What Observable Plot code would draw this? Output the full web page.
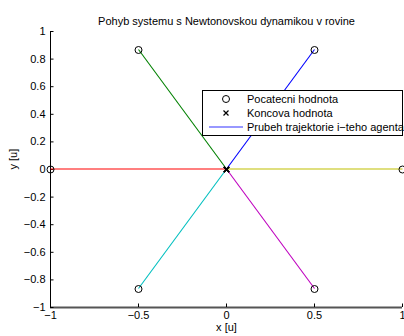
<!DOCTYPE html>
<html>
<head>
<meta charset="utf-8">
<script src="https://cdn.jsdelivr.net/npm/d3@7"></script>
<script src="https://cdn.jsdelivr.net/npm/@observablehq/plot@0.6"></script>
<style>
  html, body { margin: 0; padding: 0; background: #fff; }
  svg { font-family: "Liberation Sans", Arial, Helvetica, sans-serif; }
</style>
</head>
<body>
<div id="chart"></div>
<script>
// ---- data ----
const chartTitle = "Pohyb systemu s Newtonovskou dynamikou v rovine";
const xLabel = "x [u]";
const yLabel = "y [u]";
const agentStartX = [0.5, -0.5, -1, -0.5, 0.5, 1];
const agentStartY = [0.866, 0.866, 0, -0.866, -0.866, 0];
const agentEndX = [0, 0, 0, 0, 0, 0];
const agentEndY = [0, 0, 0, 0, 0, 0];
const agentColors = ["#0000ff", "#008000", "#ff0000", "#00bfbf", "#bf00bf", "#bfbf00"];
const xTicks = [-1, -0.5, 0, 0.5, 1];
const yTicks = [-1, -0.8, -0.6, -0.4, -0.2, 0, 0.2, 0.4, 0.6, 0.8, 1];
const legendLabels = ["Pocatecni hodnota", "Koncova hodnota", "Prubeh trajektorie i\u2212teho agenta"];

const agents = agentStartX.map((x0, i) => ({
  x0, y0: agentStartY[i], x1: agentEndX[i], y1: agentEndY[i], color: agentColors[i]
}));

const fmt = d => (d < 0 ? "\u2212" : "") + Math.abs(d);

const W = 404, H = 336;
const mL = 50, mR = 2, mT = 31, mB = 29;
const innerW = W - mL - mR, innerH = H - mT - mB;

const plot = Plot.plot({
  width: W,
  height: H,
  marginLeft: mL,
  marginRight: mR,
  marginTop: mT,
  marginBottom: mB,
  style: {fontFamily: '"Liberation Sans", Arial, Helvetica, sans-serif', fontSize: "11px", color: "#000", background: "#fff"},
  x: {domain: [-1, 1]},
  y: {domain: [-1, 1]},
  color: {type: "identity"},
  marks: [
    Plot.ruleX([-1], {stroke: "#000"}),
    Plot.ruleY([-1], {stroke: "#555", strokeWidth: 1.8}),
    Plot.tickY(yTicks, {y: d => d, insetRight: innerW - 3.5, stroke: "#000"}),
    Plot.tickX(xTicks, {x: d => d, insetTop: innerH - 3.5, stroke: "#000"}),
    Plot.link(agents, {x1: "x0", y1: "y0", x2: "x1", y2: "y1", stroke: "color", strokeWidth: 1.1, dy: -0.5}),
    Plot.dot(agents, {x: "x0", y: "y0", r: 3.5, stroke: "#000", fill: "none", strokeWidth: 1}),
    Plot.dot(agents, {x: "x1", y: "y1", r: 2.5, symbol: "times", stroke: "#000", strokeWidth: 1.2}),
    Plot.axisY({ticks: yTicks, tickSize: 0, tickPadding: 5, tickFormat: fmt, fontSize: 11, label: null}),
    Plot.axisX({ticks: xTicks, tickSize: 0, tickPadding: 4, tickFormat: fmt, fontSize: 11, label: null}),
    Plot.text([chartTitle], {frameAnchor: "top", dy: -14, fontSize: 11}),
    Plot.text([xLabel], {frameAnchor: "bottom", dy: 23, fontSize: 11}),
    Plot.text([yLabel], {frameAnchor: "left", dx: -37, rotate: -90, fontSize: 11})
  ]
});

// legend (drawn on top of the plot area)
const svg = d3.select(plot);
const g = svg.append("g").attr("font-size", 11).attr("text-anchor", "start")
  .attr("font-family", '"Liberation Sans", Arial, Helvetica, sans-serif');
g.append("rect").attr("x", 202.5).attr("y", 90.5).attr("width", 200).attr("height", 45)
  .attr("fill", "#fff").attr("stroke", "#000").attr("stroke-width", 1);
const rowY = [99, 113, 127];
g.append("circle").attr("cx", 226).attr("cy", rowY[0]).attr("r", 3.5).attr("fill", "none").attr("stroke", "#000");
g.append("path").attr("d", `M${223.5},${rowY[1]-2.5}L${228.5},${rowY[1]+2.5}M${223.5},${rowY[1]+2.5}L${228.5},${rowY[1]-2.5}`)
  .attr("stroke", "#000").attr("stroke-width", 1.2);
g.append("line").attr("x1", 209).attr("x2", 243).attr("y1", rowY[2]).attr("y2", rowY[2]).attr("stroke", "#3333ff").attr("stroke-width", 1.2);
legendLabels.forEach((t, i) => {
  g.append("text").attr("x", 247).attr("y", rowY[i]).attr("dy", "0.35em").attr("fill", "#000")
    .attr("text-anchor", "start").text(t);
});

document.getElementById("chart").appendChild(plot);
</script>
</body>
</html>
